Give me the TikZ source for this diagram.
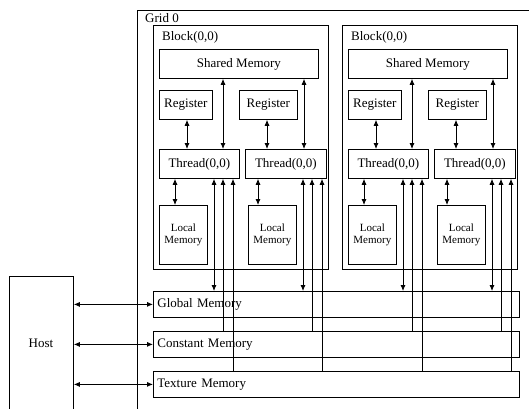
\documentclass[tikz,border=0pt]{standalone}
\usepackage{fontspec}
\setmainfont{Liberation Serif}
\usetikzlibrary{arrows.meta}
\begin{document}
\begin{tikzpicture}[x=1pt,y=-1pt,
  every node/.style={inner sep=0pt, font=\fontsize{13}{14}\selectfont},
  box/.style={draw, line width=0.8pt, anchor=north west},
  lbl/.style={anchor=west},
  small/.style={font=\fontsize{11}{12}\selectfont, align=center},
  membox/.style={draw, line width=0.8pt, anchor=north west, text width=358pt, inner xsep=4pt, inner ysep=0pt, minimum height=26pt, align=left},
  tip/.tip={Latex[length=6pt,width=5pt]},
  arr/.style={line width=0.8pt, tip-tip},
  arrt/.style={line width=0.8pt, tip-},
]
\useasboundingbox (0,0) rectangle (529,408);
\clip (0,0) rectangle (529,408);

% Grid
\node[box, minimum width=420, minimum height=420] (grid) at (137,10) {};
\node[lbl] (gridlbl) at (145,18) {Grid 0};

% memories
\node[membox] (gm) at (153,291) {Global Memory};
\node[membox] (cm) at (153,331) {Constant Memory};
\node[membox] (tm) at (153,371) {Texture Memory};

% host
\node[box, minimum width=64, minimum height=134] (host) at (9,276) {};
\node (hostlbl) at (41,343) {Host};
\draw[arr] (host.east |- gm.west) -- (gm.west);
\draw[arr] (host.east |- cm.west) -- (cm.west);
\draw[arr] (host.east |- tm.west) -- (tm.west);

\foreach \b/\dx in {1/0,2/189} {
\begin{scope}[xshift=\dx]
  \node[box, minimum width=175, minimum height=244] (blk\b) at (153,25) {};
  \node[lbl] (blklbl\b) at (162,37) {Block(0,0)};
  \node[box, minimum width=159, minimum height=29] (sm\b) at (159,49) {Shared Memory};
  \node[box, minimum width=53, minimum height=29] (rega\b) at (159,90) {Register};
  \node[box, minimum width=58, minimum height=29] (regb\b) at (239,90) {Register};
  \node[box, minimum width=80, minimum height=29] (tha\b) at (159,149) {Thread(0,0)};
  \node[box, minimum width=81, minimum height=29] (thb\b) at (245,149) {Thread(0,0)};
  \node[box, minimum width=48, minimum height=59, small] (lma\b) at (159,205) {Local\\Memory};
  \node[box, minimum width=48, minimum height=59, small] (lmb\b) at (248,205) {Local\\Memory};

  \draw[arr] (187,0 |- rega\b.south) -- (187,0 |- tha\b.north);
  \draw[arr] (223,0 |- sm\b.south) -- (223,0 |- tha\b.north);
  \draw[arr] (267,0 |- regb\b.south) -- (267,0 |- thb\b.north);
  \draw[arr] (304,0 |- sm\b.south) -- (304,0 |- thb\b.north);

  \draw[arr] (175,0 |- tha\b.south) -- (175,0 |- lma\b.north);
  \draw[arr] (214,0 |- tha\b.south) -- (214,0 |- gm.north);
  \draw[arrt] (223,0 |- tha\b.south) -- (223,0 |- cm.north);
  \draw[arrt] (233,0 |- tha\b.south) -- (233,0 |- tm.north);

  \draw[arr] (258,0 |- thb\b.south) -- (258,0 |- lmb\b.north);
  \draw[arr] (303,0 |- thb\b.south) -- (303,0 |- gm.north);
  \draw[arrt] (312,0 |- thb\b.south) -- (312,0 |- cm.north);
  \draw[arrt] (322,0 |- thb\b.south) -- (322,0 |- tm.north);
\end{scope}
}
\end{tikzpicture}
\end{document}
